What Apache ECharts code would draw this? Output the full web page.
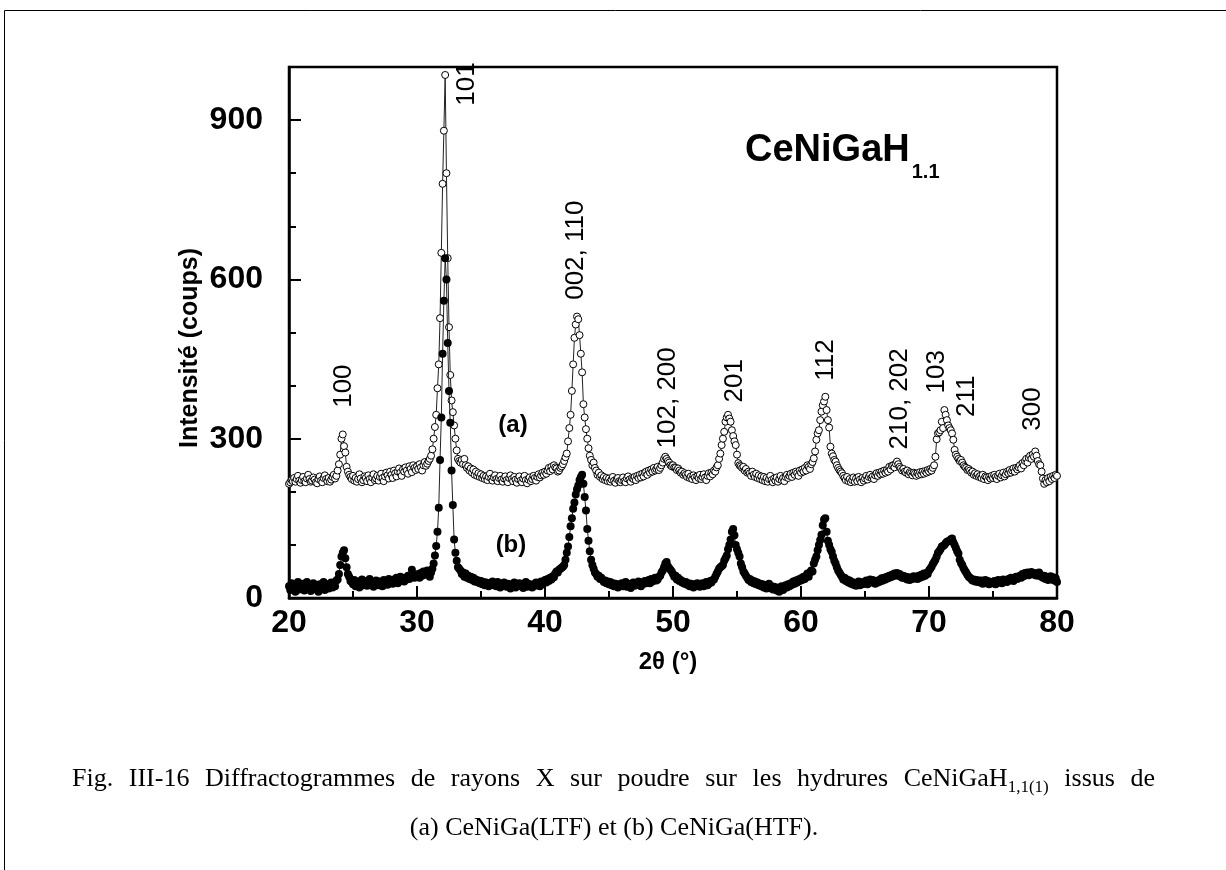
<!DOCTYPE html>
<html><head><meta charset="utf-8">
<script src="https://cdn.jsdelivr.net/npm/echarts@6/dist/echarts.min.js"></script>
<style>html,body{margin:0;padding:0;background:#fff}#c{width:1226px;height:870px}</style>
</head><body><div id="c"></div>
<script>
// 2-theta grid of the measurement
const thetaStart = 20;
const thetaStep = 0.1;

// (a) CeNiGa(LTF) hydride - open circles (counts), one row per degree (x.0 ... x.9)
const seriesA = [
215,218,222,220,226,219,224,230,221,217,
222,228,220,218,225,232,224,219,221,227,
223,218,216,224,229,221,218,226,231,224,
220,226,219,223,228,232,225,230,240,252,
270,300,308,286,274,247,238,232,228,224,
230,221,226,219,224,233,225,218,222,229,
226,220,231,224,218,227,233,222,225,230,
221,228,234,226,220,229,236,231,225,238,
232,226,240,235,229,238,244,236,230,242,
238,246,240,234,248,243,237,250,245,241,
248,243,252,246,240,250,256,249,253,258,
262,268,280,300,322,345,395,440,527,650,
780,880,985,800,640,510,420,372,350,325,
300,278,262,258,255,260,252,262,250,245,
248,240,244,236,242,232,238,230,235,228,
233,226,230,224,229,222,228,234,225,221,
227,231,224,220,226,230,223,219,225,229,
222,218,226,231,224,220,228,223,217,224,
229,221,218,225,230,222,216,223,227,220,
224,230,226,221,228,233,227,231,236,232,
238,234,240,245,239,247,242,250,246,244,
238,240,245,248,252,258,265,272,295,320,
345,390,440,490,515,530,525,495,460,425,
365,340,318,300,282,268,260,250,255,245,
240,232,236,228,231,224,228,222,226,220,
225,219,223,228,221,217,224,226,220,218,
222,227,220,218,225,229,223,219,226,224,
228,222,230,226,232,227,234,229,236,238,
232,240,236,242,238,245,240,243,247,241,
245,250,255,262,266,262,258,255,250,248,
250,246,245,241,244,240,236,238,232,235,
232,228,234,226,229,224,231,227,222,229,
226,232,224,228,233,227,222,230,235,229,
236,233,240,238,246,250,262,272,288,300,
313,332,340,345,338,332,316,305,295,288,
270,254,250,248,245,247,240,243,236,238,
235,230,238,232,228,234,226,231,224,229,
222,228,220,226,219,224,230,222,218,225,
221,227,219,224,230,222,226,220,228,232,
226,230,234,228,236,232,238,235,230,240,
236,242,238,245,240,250,247,243,252,256,
263,276,298,310,316,335,351,363,370,379,
354,335,321,285,272,267,260,257,250,245,
241,238,235,230,226,222,228,220,224,218,
222,227,219,225,220,228,223,218,226,221,
225,230,223,228,232,226,229,224,231,235,
230,236,233,238,234,240,236,241,238,247,
242,249,250,246,253,257,252,247,244,240,
243,238,236,240,233,237,235,231,236,234,
230,235,232,237,233,238,234,239,236,241,
238,243,240,245,250,266,299,310,312,316,
332,320,354,345,335,325,320,316,310,298,
279,270,266,262,258,260,255,250,247,245,
241,243,240,236,238,232,235,230,233,228,
230,226,232,224,229,227,222,228,225,230,
226,232,228,224,230,234,227,231,236,229,
233,238,235,241,236,240,244,238,245,242,
246,250,244,254,250,258,262,255,264,268,
262,270,266,276,268,258,252,250,238,225,
215,222,218,226,220,228,224,230,226,232,
230
];

// (b) CeNiGa(HTF) hydride - filled circles (counts)
const seriesB = [
22,15,28,18,25,12,20,30,16,24,
19,27,14,22,30,18,25,13,21,28,
17,24,20,12,26,19,23,30,15,22,
26,18,24,29,20,27,22,33,35,45,
62,78,85,90,75,58,45,40,32,30,
26,34,22,28,31,20,27,35,24,29,
32,23,28,36,25,30,21,27,33,26,
24,31,28,22,34,27,30,25,36,29,
33,27,35,30,38,28,32,40,34,37,
31,38,35,42,36,40,53,45,38,42,
40,45,38,47,42,50,44,48,52,45,
40,48,55,65,80,98,125,170,260,340,
460,560,640,600,480,390,330,240,175,110,
85,70,58,55,52,45,48,40,46,38,
42,36,40,34,38,31,35,30,33,28,
32,26,30,24,29,27,22,28,25,31,
24,28,22,30,26,20,27,23,29,25,
21,27,24,18,26,22,29,20,25,23,
28,22,26,19,24,30,21,27,23,25,
20,26,23,29,24,28,22,31,26,30,
34,29,36,32,38,35,41,39,46,50,
48,53,55,57,59,62,72,85,97,115,
135,150,168,180,195,205,212,222,228,232,
215,190,165,130,108,88,72,62,55,48,
45,40,42,36,38,34,30,33,28,31,
26,30,24,28,22,27,25,20,26,23,
28,22,25,30,21,27,24,19,26,29,
23,28,25,31,26,22,29,27,32,28,
30,34,28,36,31,35,38,33,35,40,
42,48,52,58,65,68,60,56,53,50,
45,40,42,35,38,32,34,29,31,27,
30,25,28,22,27,24,20,26,23,28,
25,21,24,28,22,26,30,24,27,32,
29,34,35,40,45,50,55,58,60,62,
70,75,80,92,100,110,125,130,118,100,
92,85,78,65,58,50,46,42,38,34,
36,30,33,28,31,26,29,24,27,22,
26,20,24,18,23,27,19,22,16,21,
18,14,20,12,17,22,15,19,24,20,
26,22,28,25,31,27,33,29,35,32,
37,34,40,36,42,46,40,48,52,50,
65,72,78,90,100,109,119,137,148,150,
125,108,100,92,87,78,70,65,58,52,
48,44,40,35,38,32,35,29,33,27,
30,25,28,23,27,31,24,29,26,30,
28,33,26,31,35,29,34,30,27,32,
29,34,31,37,33,38,35,40,37,42,
39,44,41,46,43,47,42,45,40,38,
42,37,40,35,39,34,38,36,41,37,
40,36,42,38,44,40,46,42,47,45,
52,55,59,64,68,72,78,85,88,92,
97,98,100,103,106,107,108,110,112,105,
100,94,88,84,72,66,62,56,52,48,
44,40,38,36,33,35,31,34,30,33,
29,33,27,31,34,28,32,26,30,29,
28,32,26,30,34,29,33,28,35,31,
34,30,36,33,38,35,32,37,40,36,
39,42,38,45,41,47,44,48,43,46,
49,45,47,43,46,42,48,44,40,38,
42,36,40,34,38,41,35,39,33,37,
30
];

// Miller-index annotations and their anchors (2theta, counts)
const hklTexts = ['100', '101', '002, 110', '102, 200', '201', '112', '210, 202', '103', '211', '300'];
const hklAnchors = [[24.3, 399], [33.91, 968], [42.42, 655], [49.61, 377], [54.84, 409], [61.95, 448], [67.73, 375], [70.63, 426], [72.97, 380], [78.13, 356]];
const curveTags = ['(a)', '(b)'];
const curveTagAnchors = [[37.5, 326], [37.34, 100]];

const xTickValues = [20, 30, 40, 50, 60, 70, 80];
const yTickValues = [0, 300, 600, 900];

const titleMain = 'CeNiGaH';
const titleSub = '1.1';
const xName = '2θ (°)';
const yName = 'Intensité (coups)';
// caption line 1 words (justified), subscript attached to the word at cap1SubIndex
const cap1Words = ['Fig.', 'III-16', 'Diffractogrammes', 'de', 'rayons', 'X', 'sur', 'poudre', 'sur', 'les', 'hydrures', 'CeNiGaH', 'issus', 'de'];
const cap1SubIndex = 11;
const cap1Sub = '1,1(1)';
const cap2 = '(a) CeNiGa(LTF) et (b) CeNiGa(HTF).';

function toPairs(vals) {
  return vals.map((v, i) => [Math.round((thetaStart + i * thetaStep) * 10) / 10, v]);
}

const ctx = document.createElement('canvas').getContext('2d');
function tw(text, font) { ctx.font = font; return ctx.measureText(text).width; }

const SANS = '"Liberation Sans", Arial, sans-serif';
const SERIF = '"Liberation Serif", "Times New Roman", serif';

// caption layout (justified between the text block margins)
const capSize = 26, capSubSize = 17;
const capLeft = 72, capRight = 1155;
const capFont = capSize + 'px "Liberation Serif"';
const subFont = capSubSize + 'px "Liberation Serif"';
const subW = tw(cap1Sub, subFont);
const wordW = cap1Words.map((w, i) => tw(w, capFont) + (i === cap1SubIndex ? subW : 0));
const gapW = (capRight - capLeft - wordW.reduce((s, v) => s + v, 0)) / (cap1Words.length - 1);
const capGraphics = [];
let cx = capLeft;
cap1Words.forEach((w, i) => {
  capGraphics.push({ type: 'text', x: cx, y: 779, silent: true,
    style: { text: w, fontFamily: SERIF, fontSize: capSize, fill: '#000', align: 'left', verticalAlign: 'middle' } });
  if (i === cap1SubIndex) {
    capGraphics.push({ type: 'text', x: cx + tw(w, capFont), y: 788, silent: true,
      style: { text: cap1Sub, fontFamily: SERIF, fontSize: capSubSize, fill: '#000', align: 'left', verticalAlign: 'middle' } });
  }
  cx += wordW[i] + gapW;
});

const titleSize = 38;
const titleW = tw(titleMain, 'bold ' + titleSize + 'px "Liberation Sans"');

const chart = echarts.init(document.getElementById('c'), null, { renderer: 'canvas' });

const tickLine = { color: '#000', width: 2 };
const labelFont = { fontFamily: SANS, fontSize: 32, fontWeight: 'bold', color: '#000' };

const baseGraphics = [
  { type: 'line', shape: { x1: 4.5, y1: 10.5, x2: 1226, y2: 10.5 }, style: { stroke: '#000', lineWidth: 1 }, silent: true },
  { type: 'line', shape: { x1: 4.5, y1: 10.5, x2: 4.5, y2: 870 }, style: { stroke: '#000', lineWidth: 1 }, silent: true },
  { type: 'text', x: 745, y: 151, silent: true,
    style: { text: titleMain, fontFamily: SANS, fontSize: titleSize, fontWeight: 'bold', fill: '#000', align: 'left', verticalAlign: 'middle' } },
  { type: 'text', x: 745 + titleW + 2, y: 172, silent: true,
    style: { text: titleSub, fontFamily: SANS, fontSize: 20, fontWeight: 'bold', fill: '#000', align: 'left', verticalAlign: 'middle' } },
  { type: 'text', x: 190, y: 348, rotation: Math.PI / 2, silent: true,
    style: { text: yName, fontFamily: SANS, fontSize: 25, fontWeight: 'bold', fill: '#000', align: 'center', verticalAlign: 'middle' } },
  { type: 'text', x: 668, y: 662, silent: true,
    style: { text: xName, fontFamily: SANS, fontSize: 24, fontWeight: 'bold', fill: '#000', align: 'center', verticalAlign: 'middle' } },
  { type: 'text', x: 614, y: 828, silent: true,
    style: { text: cap2, fontFamily: SERIF, fontSize: capSize, fill: '#000', align: 'center', verticalAlign: 'middle' } }
].concat(capGraphics);

const option = {
  animation: false,
  backgroundColor: '#fff',
  grid: { left: 289, top: 67, width: 768, height: 531, show: true, borderColor: '#000', borderWidth: 2.5, backgroundColor: 'transparent' },
  xAxis: {
    type: 'value', min: xTickValues[0], max: xTickValues[xTickValues.length - 1], interval: xTickValues[1] - xTickValues[0],
    axisLine: { show: true, onZero: false, lineStyle: { color: '#000', width: 2.5 } },
    axisTick: { show: true, inside: true, length: 12, lineStyle: tickLine },
    minorTick: { show: true, splitNumber: 2, length: 7, lineStyle: tickLine },
    axisLabel: Object.assign({ margin: 9 }, labelFont),
    splitLine: { show: false }, minorSplitLine: { show: false }
  },
  yAxis: [{
    type: 'value', min: 0, max: 1000, interval: yTickValues[1] - yTickValues[0],
    axisLine: { show: true, onZero: false, lineStyle: { color: '#000', width: 2.5 } },
    axisTick: { show: true, inside: true, length: 12, lineStyle: tickLine },
    axisLabel: Object.assign({ margin: 26, showMaxLabel: false,
      formatter: v => (yTickValues.indexOf(v) >= 0 ? String(v) : '') }, labelFont),
    splitLine: { show: false }
  }, {
    type: 'value', min: 0, max: 1000, interval: 100, position: 'left',
    axisLine: { show: false },
    axisTick: { show: true, inside: true, length: 7, lineStyle: tickLine },
    axisLabel: { show: false },
    splitLine: { show: false }
  }],
  series: [
    {
      name: '(a)', type: 'line', data: toPairs(seriesA), yAxisIndex: 0,
      symbol: 'circle', symbolSize: 7, showAllSymbol: true,
      lineStyle: { color: '#222', width: 1 },
      itemStyle: { color: '#fff', borderColor: '#000', borderWidth: 1 },
      z: 2
    },
    {
      name: '(b)', type: 'line', data: toPairs(seriesB), yAxisIndex: 0,
      symbol: 'circle', symbolSize: 8, showAllSymbol: true,
      lineStyle: { color: '#222', width: 1 },
      itemStyle: { color: '#000', borderColor: '#000', borderWidth: 0 },
      z: 3
    }
  ],
  graphic: baseGraphics
};
chart.setOption(option);

// annotations placed through the axes' own scales
const annotGraphics = [];
hklAnchors.forEach((p, i) => {
  const px = chart.convertToPixel({ xAxisIndex: 0, yAxisIndex: 0 }, p);
  annotGraphics.push({ type: 'text', x: px[0], y: px[1], rotation: Math.PI / 2, silent: true, z: 10,
    style: { text: hklTexts[i], fontFamily: SANS, fontSize: 26, fill: '#000', align: 'center', verticalAlign: 'middle' } });
});
curveTagAnchors.forEach((p, i) => {
  const px = chart.convertToPixel({ xAxisIndex: 0, yAxisIndex: 0 }, p);
  annotGraphics.push({ type: 'text', x: px[0], y: px[1], silent: true, z: 10,
    style: { text: curveTags[i], fontFamily: SANS, fontSize: 24, fontWeight: 'bold', fill: '#000', align: 'center', verticalAlign: 'middle' } });
});
chart.setOption({ graphic: baseGraphics.concat(annotGraphics) });
</script>
</body></html>
